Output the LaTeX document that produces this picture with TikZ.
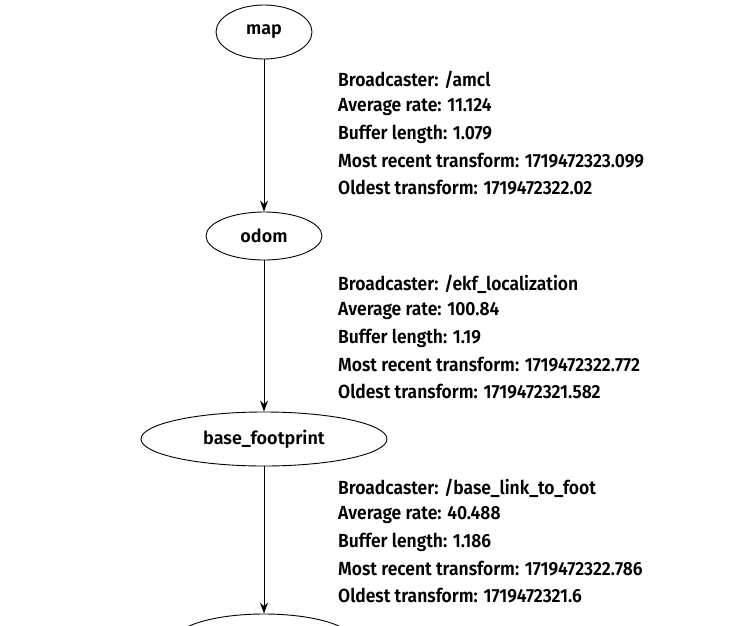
\documentclass[tikz,border=0pt]{standalone}
\usepackage{fontspec}
\setmainfont{Fira Sans}[UprightFont=* SemiBold]
\usetikzlibrary{arrows.meta,shapes.geometric}
\begin{document}
\begin{tikzpicture}[x=1pt,y=-1pt,
  frame/.style={draw,ellipse,inner sep=0pt,line width=0.9pt,font=\fontsize{18}{20}\selectfont},
  lbl/.style={anchor=west,font=\fontsize{19}{22}\selectfont,inner sep=0pt,xscale=0.92},
  edge/.style={-{Stealth[length=11pt,width=8pt]},line width=0.9pt}]
\useasboundingbox (0,0) rectangle (744,626);
\clip (0,0) rectangle (744,626);
\node[frame,minimum width=96pt,minimum height=54pt] (map) at (264,32) {map};
\node[frame,minimum width=116pt,minimum height=48pt] (odom) at (264,236) {odom};
\node[frame,minimum width=246pt,minimum height=54pt] (bf) at (264,439) {base\_footprint};
\node[frame,minimum width=180pt,minimum height=54pt] (bl) at (264,641) {};
\draw[edge] (map) -- (odom);
\draw[edge] (odom) -- (bf);
\draw[edge] (bf) -- (bl);
\foreach \y/\t in {80/{Broadcaster: /amcl},107/{Average rate: 11.124},134/{Buffer length: 1.079},161/{Most recent transform: 1719472323.099},188/{Oldest transform: 1719472322.02},
284/{Broadcaster: /ekf\_localization},311/{Average rate: 100.84},338/{Buffer length: 1.19},365/{Most recent transform: 1719472322.772},392/{Oldest transform: 1719472321.582},
488/{Broadcaster: /base\_link\_to\_foot},515/{Average rate: 40.488},542/{Buffer length: 1.186},569/{Most recent transform: 1719472322.786},596/{Oldest transform: 1719472321.6}}
  \node[lbl] at (338,\y) {\t};
\end{tikzpicture}
\end{document}
